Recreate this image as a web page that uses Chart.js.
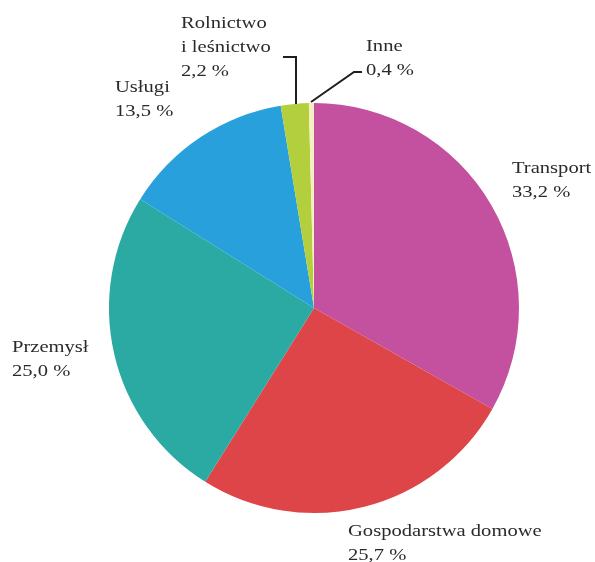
<!DOCTYPE html>
<html>
<head>
<meta charset="utf-8">
<script src="https://cdn.jsdelivr.net/npm/chart.js@4"></script>
<style>
html,body{margin:0;padding:0;background:#fff;}
canvas{display:block;}
</style>
</head>
<body>
<canvas id="c" width="595" height="562"></canvas>
<script>
const categories = ["Transport", "Gospodarstwa domowe", "Przemysł", "Usługi", "Rolnictwo i leśnictwo", "Inne"];
const shares = [33.2, 25.7, 25.0, 13.5, 2.2, 0.4];
const colors = ["#c4519f", "#dd4548", "#2aaaa3", "#27a0dc", "#b4cf3e", "#f6efc4"];
const labelLines = [
  ["Transport", "33,2 %"],
  ["Gospodarstwa domowe", "25,7 %"],
  ["Przemysł", "25,0 %"],
  ["Usługi", "13,5 %"],
  ["Rolnictwo", "i leśnictwo", "2,2 %"],
  ["Inne", "0,4 %"]
];

const labelPlacement = [
  {x: 512, y: 169},
  {x: 348, y: 532},
  {x: 12, y: 348},
  {x: 115, y: 88},
  {x: 181, y: 24},
  {x: 366, y: 47}
];
const leaders = [
  [[283, 57], [296, 57], [296, 104]],
  [[311, 102], [354, 72], [362, 72]]
];

const labelPlugin = {
  id: 'outsideLabels',
  afterDraw(chart) {
    const ctx = chart.ctx;
    ctx.save();
    ctx.strokeStyle = '#1e1e1e';
    ctx.lineWidth = 2;
    leaders.forEach(pts => {
      ctx.beginPath();
      ctx.moveTo(pts[0][0], pts[0][1]);
      for (let i = 1; i < pts.length; i++) ctx.lineTo(pts[i][0], pts[i][1]);
      ctx.stroke();
    });
    ctx.fillStyle = '#2a2a2a';
    ctx.font = '17px "Liberation Serif", "Times New Roman", serif';
    ctx.textBaseline = 'middle';
    ctx.textAlign = 'left';
    const sx = 1.21;
    labelLines.forEach((lines, i) => {
      const p = labelPlacement[i];
      lines.forEach((t, j) => {
        ctx.save();
        ctx.translate(p.x, p.y + j * 24);
        ctx.scale(sx, 1);
        ctx.fillText(t, 0, 0);
        ctx.restore();
      });
    });
    ctx.restore();
  }
};

new Chart(document.getElementById('c'), {
  type: 'pie',
  data: {
    labels: categories,
    datasets: [{
      data: shares,
      backgroundColor: colors,
      borderWidth: 0
    }]
  },
  options: {
    responsive: false,
    animation: false,
    devicePixelRatio: 1,
    layout: { padding: { left: 109, right: 76, top: 103, bottom: 49 } },
    plugins: {
      legend: { display: false },
      tooltip: { enabled: false },
      title: { display: false }
    }
  },
  plugins: [labelPlugin]
});
</script>
</body>
</html>
